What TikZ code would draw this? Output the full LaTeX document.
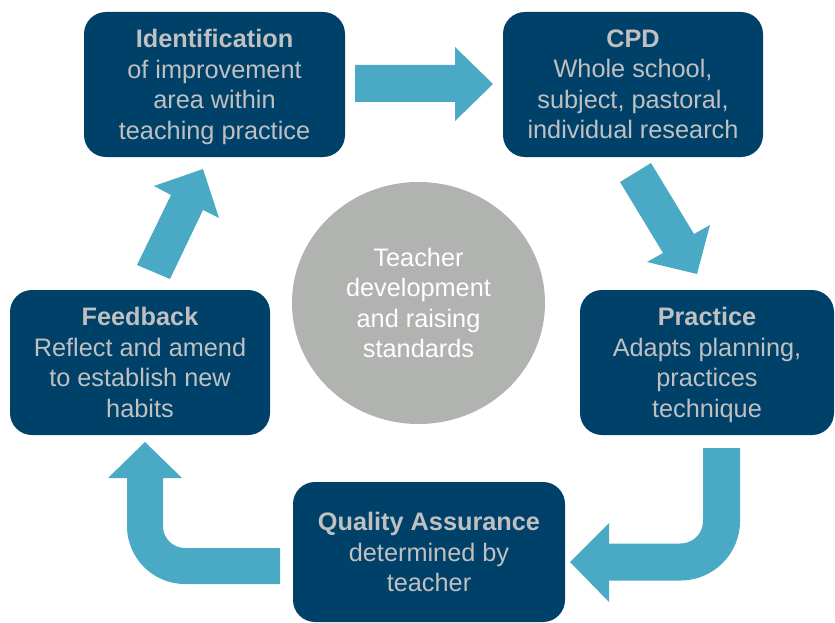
\documentclass[tikz,border=0pt]{standalone}
\usepackage{fontspec}
\setmainfont{Liberation Sans}
\usetikzlibrary{shapes.geometric}
\definecolor{navy}{HTML}{00416A}
\definecolor{txtgray}{HTML}{C0C0C0}
\definecolor{arrowc}{HTML}{4AAAC5}
\definecolor{circgray}{HTML}{B1B3B0}
\newcommand{\nodepth}[1]{\raisebox{0pt}[\height][0pt]{#1}}
\begin{document}
\begin{tikzpicture}[x=1pt,y=-1pt,
  box/.style={fill=navy, rounded corners=22pt, text=txtgray, align=center,
    font=\fontsize{25.3}{30.5}\selectfont, inner sep=0pt},
  arr/.style={fill=arrowc},
  bent/.style={draw=arrowc, line width=#1}]
\useasboundingbox (0,0) rectangle (835,623);
% boxes
\node[box, minimum width=261pt, minimum height=145pt] (ident) at (214.5,84.5)
  {\textbf{Identification}\\of improvement\\area within\\\nodepth{teaching practice}};
\node[box, minimum width=260pt, minimum height=145pt] (cpd) at (633,84.5)
  {\textbf{CPD}\\Whole school,\\subject, pastoral,\\individual research};
\node[box, minimum width=260pt, minimum height=145pt] (feed) at (140,362.5)
  {\textbf{Feedback}\\Reflect and amend\\to establish new\\habits};
\node[box, minimum width=254pt, minimum height=145pt] (prac) at (707,362.5)
  {\textbf{Practice}\\Adapts planning,\\practices\\\nodepth{technique}};
\node[box, minimum width=272pt, minimum height=140pt] (qa) at (429,552)
  {\textbf{Quality Assurance}\\determined by\\teacher};
% centre
\node[ellipse, fill=circgray, minimum width=253pt, minimum height=242pt, inner sep=0pt,
  text=white, align=center, font=\fontsize{25.3}{30.5}\selectfont] (centre) at (418.5,303)
  {Teacher\\development\\and raising\\standards};
% straight arrows
\fill[arr] (355,65) -- (455,65) -- (455,47) -- (493,84) -- (455,121) -- (455,102) -- (355,102) -- cycle;
\fill[arr] (620,182) -- (651,163) -- (694,234) -- (710,225) -- (697,274) -- (647,262) -- (663,253) -- cycle;
\fill[arr] (137,265) -- (170,279) -- (203,210) -- (219,218) -- (203,169) -- (154,186) -- (171,195) -- cycle;
% bent arrows
\draw[bent=37pt, rounded corners=41pt] (721.5,448) -- (721.5,562) -- (608,562);
\fill[arr] (609,523) -- (609,602) -- (570,562) -- cycle;
\draw[bent=36pt, rounded corners=40pt] (280,566) -- (145,566) -- (145,477);
\fill[arr] (108,478) -- (182,478) -- (145,442) -- cycle;
\end{tikzpicture}
\end{document}
